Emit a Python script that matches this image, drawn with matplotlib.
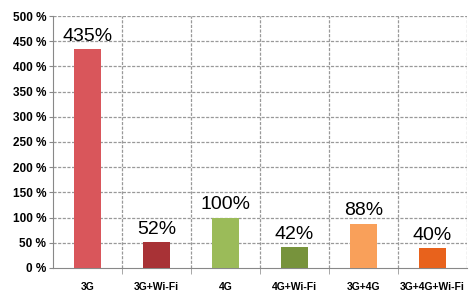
import matplotlib.pyplot as plt
import numpy as np

categories = ["3G", "3G+Wi-Fi", "4G", "4G+Wi-Fi", "3G+4G", "3G+4G+Wi-Fi"]
values = [435, 52, 100, 42, 88, 40]
colors = ["#d9565b", "#a83236", "#9bbb59", "#77933c", "#f9a05a", "#e8621c"]
y_ticks = [0, 50, 100, 150, 200, 250, 300, 350, 400, 450, 500]

plt.rcParams["font.family"] = ["Liberation Sans", "DejaVu Sans"]

fig = plt.figure(figsize=(4.74, 2.98), dpi=100)
ax = fig.add_axes([0.112, 0.101, 0.873, 0.845])

x = np.arange(len(categories))
ax.bar(x, values, width=0.4, color=colors, zorder=3)

for xi, v in zip(x, values):
    ax.annotate(f"{v}%", (xi, v), xytext=(0, 3), textcoords="offset points",
                ha="center", va="bottom", fontsize=14, color="black")

ax.set_xlim(-0.5, len(categories) - 0.5)
ax.set_ylim(0, 500)
ax.set_yticks(y_ticks)
ax.set_yticklabels([f"{t} %" for t in y_ticks], fontsize=8.5, fontweight="bold")
ax.set_xticks(x)
ax.set_xticklabels(categories, fontsize=7.5, fontweight="bold")
ax.set_xticks(np.arange(0.5, len(categories) - 0.5, 1.0), minor=True)
ax.tick_params(axis="x", which="major", length=0, pad=10)
ax.tick_params(axis="x", which="minor", length=4, color="#999999")
ax.tick_params(axis="y", length=3, color="#888888", pad=2)

# dashed grid: horizontal at y ticks, vertical at category boundaries
for y in y_ticks[1:]:
    ax.axhline(y, color="#999999", linestyle=(0, (2.5, 1.2)), linewidth=0.9, zorder=1)
for b in np.arange(0.5, len(categories), 1.0):
    ax.axvline(b, color="#999999", linestyle=(0, (2.5, 1.2)), linewidth=0.9, zorder=1)

for s in ["top", "right"]:
    ax.spines[s].set_visible(False)
ax.spines["left"].set_color("#888888")
ax.spines["bottom"].set_color("#888888")

fig.savefig("out.png", dpi=100)
